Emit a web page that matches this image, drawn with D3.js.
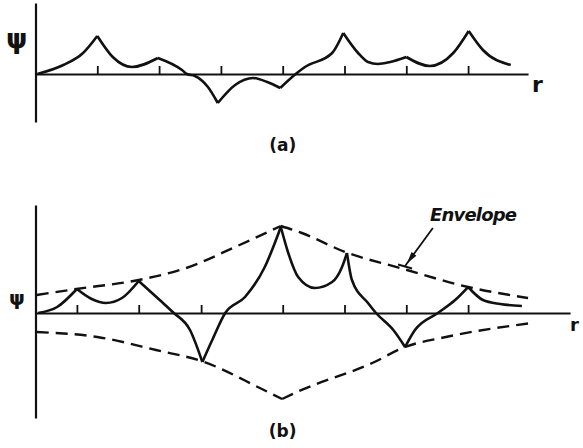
<!DOCTYPE html>
<html>
<head>
<meta charset="utf-8">
<script src="https://cdn.jsdelivr.net/npm/d3@7"></script>
<style>
  body { margin: 0; background: #fff; }
  svg { display: block; }
  .axis path, .axis line { stroke: #111; }
</style>
</head>
<body>
<svg id="chart" width="583" height="448"></svg>
<script>
// panel (a): wave function psi(r), cusps at the atom positions
var ticksA = [1, 2, 3, 4, 5, 6, 7];
var curveA = [
    [0.03, 0], [0.45, 0.9], [0.77, 2.1], [1.0, 3.8],
    [1.25, 1.7], [1.56, 0.7], [1.98, 1.6],
    [2.37, 0.4], [2.45, 0], [2.58, -0.2], [2.79, -1.3], [2.95, -2.9],
    [3.23, -1.1], [3.52, -0.4], [3.75, -0.8], [3.96, -1.4],
    [4.23, 0.1], [4.36, 0.7], [4.8, 2.1], [4.98, 4.1],
    [5.22, 2.1], [5.38, 1.2], [5.54, 1.0], [5.74, 1.2], [6.0, 1.7],
    [6.38, 0.8], [6.76, 2.1], [7.01, 4.3],
    [7.24, 2.4], [7.69, 0.9]
];
var cuspsA = [1.0, 1.98, 2.95, 3.96, 4.98, 6.0, 7.01];

// panel (b): psi(r) with its envelope
var ticksB = [0.67, 1.67, 2.68, 4, 5, 6, 7];
var curveB = [
    [0.04, 0], [0.35, 0.6], [0.67, 2.4],
    [0.91, 1.4], [1.14, 1.0], [1.4, 1.5], [1.67, 3.2],
    [2.01, 1.3], [2.22, 0.1], [2.5, -1.7], [2.7, -4.9],
    [2.86, -2.7], [3.07, 0], [3.39, 1.6], [3.71, 4.6], [3.97, 8.6],
    [4.09, 6.0], [4.25, 3.6], [4.52, 2.5], [4.8, 3.1], [4.96, 4.6], [5.04, 6.0],
    [5.12, 3.3], [5.38, 1.0], [5.51, 0], [5.79, -1.7], [5.98, -3.4],
    [6.14, -1.7], [6.51, 0], [6.79, 1.3], [7.0, 2.6],
    [7.24, 1.3], [7.52, 0.9], [7.87, 0.7]
];
var cuspsB = [0.67, 1.67, 2.7, 3.97, 5.04, 5.98, 7.0];
var envUpper = [
    [0.02, 1.8], [0.66, 2.4], [1.67, 3.3], [2.44, 4.5], [3.23, 6.6], [3.97, 8.7],
    [4.31, 8.0], [5.01, 6.1], [5.9, 4.5], [7.0, 2.6], [7.97, 1.5]
];
var envLower = [
    [0.02, -1.9], [1.0, -2.4], [1.95, -3.7], [2.73, -4.9], [3.63, -7.5], [3.99, -8.6],
    [4.23, -7.9], [5.45, -5.0], [5.98, -3.4], [6.64, -2.4], [8.03, -1.0]
];
var envPeak = [3.97, 3.99];

var svg = d3.select("#chart");
var ink = "#111";

var x = d3.scaleLinear().domain([0, 8]).range([35.5, 529.9]);

// split a polyline at its cusps so each piece is smoothed on its own
function pieces(pts, cusps) {
    var out = [], cur = [];
    pts.forEach(function(p) {
        cur.push(p);
        if (cusps.indexOf(p[0]) >= 0 && cur.length > 1) {
            out.push(cur);
            cur = [p];
        }
    });
    if (cur.length > 1) out.push(cur);
    return out;
}

function panel(g, y, rEnd, ticks, curve, cusps) {
    var xa = x.copy().domain([0, rEnd]).range([x(0), x(rEnd)]);
    g.append("g")
        .attr("class", "axis")
        .attr("transform", "translate(0," + y(0) + ")")
        .call(d3.axisTop(xa).tickValues(ticks).tickSize(8).tickSizeOuter(0).tickFormat(""))
        .call(function(s) {
            s.select(".domain").attr("stroke-width", 2.2);
            s.selectAll(".tick line").attr("stroke-width", 1.8);
        });
    g.append("g")
        .attr("class", "axis")
        .attr("transform", "translate(" + x(0) + ",0)")
        .call(d3.axisLeft(y).tickValues([]).tickSizeOuter(0))
        .select(".domain").attr("stroke-width", 2.2);

    var line = d3.line()
        .x(function(d) { return x(d[0]); })
        .y(function(d) { return y(d[1]); })
        .curve(d3.curveMonotoneX);
    g.selectAll(".psi")
        .data(pieces(curve, cusps))
        .enter().append("path")
        .attr("class", "psi")
        .attr("d", line)
        .attr("fill", "none")
        .attr("stroke", ink)
        .attr("stroke-width", 2.6)
        .attr("stroke-linejoin", "miter");
    return line;
}

// ---- (a)
var yA = d3.scaleLinear().domain([-4.8, 7.1]).range([122, 3]);
var gA = svg.append("g");
panel(gA, yA, 7.97, ticksA, curveA, cuspsA);

// ---- (b)
var yB = d3.scaleLinear().domain([-10.5, 10.8]).range([418, 205]);
var gB = svg.append("g");
var lineB = panel(gB, yB, 8.65, ticksB, curveB, cuspsB);

[envUpper, envLower].forEach(function(env) {
    gB.selectAll(null)
        .data(pieces(env, envPeak))
        .enter().append("path")
        .attr("d", lineB)
        .attr("fill", "none")
        .attr("stroke", ink)
        .attr("stroke-width", 2.4)
        .attr("stroke-dasharray", "12,7");
});

// envelope label with arrow
var arrowFrom = [6.43, 8.5], arrowTo = [5.98, 4.7];
var ax0 = x(arrowFrom[0]), ay0 = yB(arrowFrom[1]);
var ax1 = x(arrowTo[0]), ay1 = yB(arrowTo[1]);
var ang = Math.atan2(ay1 - ay0, ax1 - ax0);
gB.append("line")
    .attr("x1", ax0).attr("y1", ay0).attr("x2", ax1).attr("y2", ay1)
    .attr("stroke", ink).attr("stroke-width", 1.8);
var hl = 12, hw = 3;
var bx = ax1 - 3 * Math.cos(ang), by = ay1 - 3 * Math.sin(ang);
gB.append("path")
    .attr("d", "M" + bx + "," + by +
        "L" + (bx - hl * Math.cos(ang) - hw * Math.sin(ang)) + "," + (by - hl * Math.sin(ang) + hw * Math.cos(ang)) +
        "L" + (bx - hl * Math.cos(ang) + hw * Math.sin(ang)) + "," + (by - hl * Math.sin(ang) - hw * Math.cos(ang)) + "Z")
    .attr("fill", ink);
gB.append("line")
    .attr("x1", ax1 - 7).attr("y1", ay1 - 1.5).attr("x2", ax1 + 7).attr("y2", ay1 + 2.5)
    .attr("stroke", ink).attr("stroke-width", 2);
gB.append("text")
    .attr("x", 430).attr("y", 221)
    .attr("font-family", "DejaVu Sans")
    .attr("font-style", "italic")
    .attr("font-weight", "bold")
    .attr("font-size", 18)
    .attr("textLength", 87)
    .attr("fill", ink)
    .text("Envelope");

// labels
function label(txt, px, py, size, weight, anchor) {
    svg.append("text")
        .attr("x", px).attr("y", py)
        .attr("font-family", "DejaVu Sans")
        .attr("font-size", size)
        .attr("font-weight", weight)
        .attr("text-anchor", anchor || "start")
        .attr("fill", ink)
        .text(txt);
}
label("\u03c8", 6, 48, 27, "bold");
label("r", 532, 92, 22, "bold");
label("(a)", x(4), 151, 17, "bold", "middle");
label("\u03c8", 9, 305, 20, "bold");
label("r", 570, 331, 18, "bold");
label("(b)", x(4), 437, 17, "bold", "middle");
</script>
</body>
</html>
